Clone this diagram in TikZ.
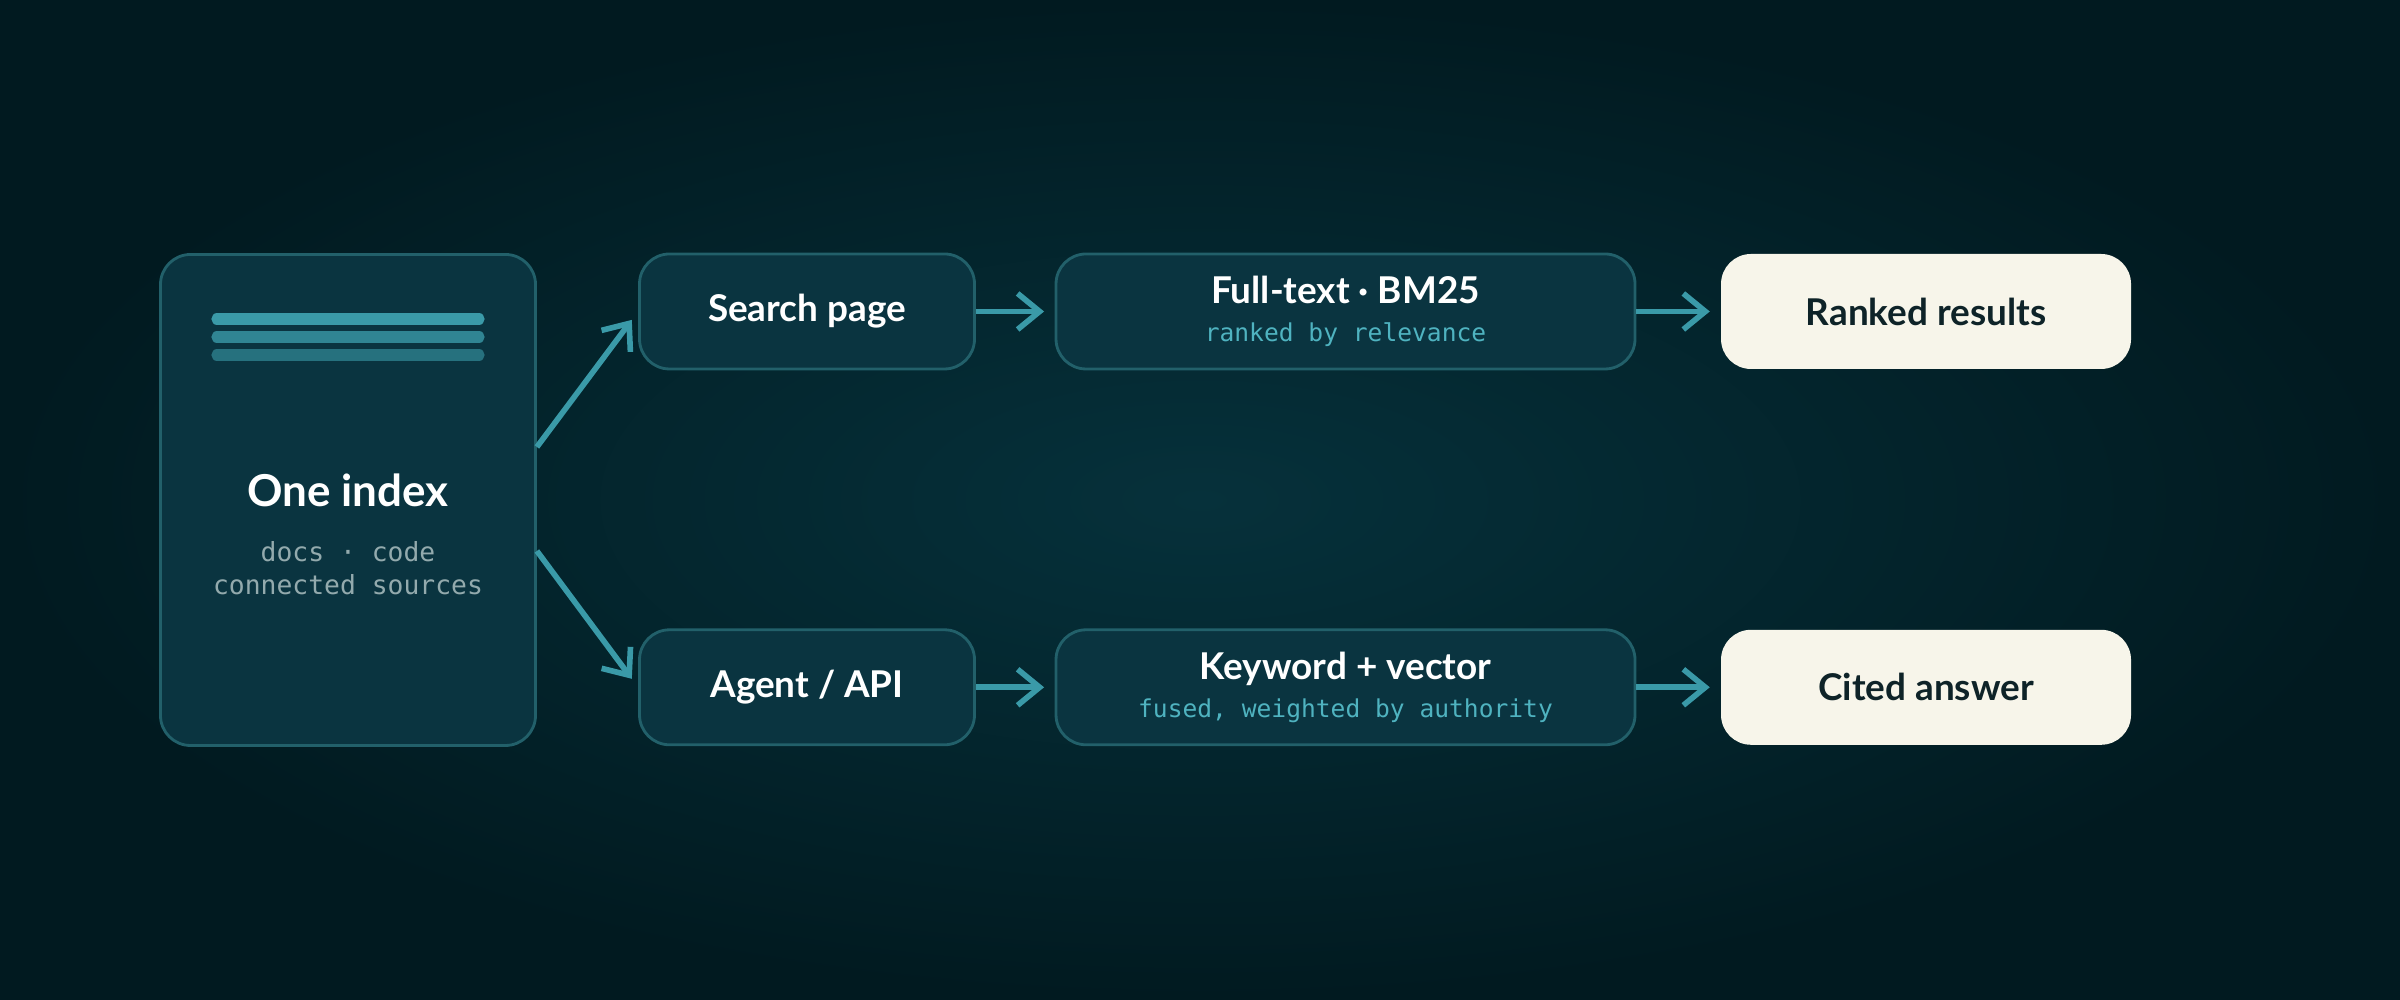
\documentclass[tikz,border=0pt]{standalone}
\usepackage{fontspec}
\setmainfont{Lato}
\setmonofont{DejaVu Sans Mono}
\usetikzlibrary{arrows.meta,positioning}
\definecolor{bgin}{HTML}{06313B}
\definecolor{bgout}{HTML}{011A20}
\definecolor{boxfill}{HTML}{0A3440}
\definecolor{boxline}{HTML}{22606A}
\definecolor{cream}{HTML}{F7F5EA}
\definecolor{teal}{HTML}{3A9AA8}
\definecolor{monoteal}{HTML}{4FB3C0}
\definecolor{monogray}{HTML}{93AAAD}
\definecolor{darktext}{HTML}{0E2328}
\newcommand{\stagenote}[1]{{\normalfont\fontsize{7}{9}\selectfont\ttfamily\color{monoteal}#1}}
\tikzset{
  stage/.style={draw=boxline, line width=0.8pt, fill=boxfill, rounded corners=0.3cm,
    minimum height=1.15cm, text=white, font=\fontsize{10.5}{12}\selectfont\bfseries, align=center},
  result/.style={fill=cream, rounded corners=0.3cm, minimum height=1.15cm, minimum width=4.1cm,
    text=darktext, font=\fontsize{10.5}{12}\selectfont\bfseries},
  flow/.style={draw=teal, line width=1.6pt, -{Straight Barb[length=2.2mm,width=3.6mm]}}
}
\begin{document}
\begin{tikzpicture}
\shade[inner color=bgin, outer color=bgout] (0,0) rectangle (24,10);
\useasboundingbox (0,0) rectangle (24,10);

% source box
\node[stage, minimum width=3.75cm, minimum height=4.91cm] (index) at (3.48,5.0) {};
\foreach \y/\o in {6.81/1, 6.63/0.8, 6.45/0.6}
  \draw[teal, opacity=\o, line width=3.2pt, line cap=round] (2.17,\y) -- (4.79,\y);
\node[text=white, font=\fontsize{12.5}{14}\selectfont\bfseries] (title) at (3.48,5.1) {One index};
\node[font=\fontsize{7.5}{9.5}\selectfont\ttfamily, text=monogray, align=center, below=0.1cm of title] (srcs) {docs · code\\connected sources};

% top row
\node[stage, minimum width=3.35cm] (search) at (8.07,6.885) {Search page};
\node[stage, minimum width=5.79cm] (bm) at (13.455,6.885) {Full-text · BM25\\[-1pt]\stagenote{ranked by relevance}};
\node[result] (ranked) at (19.26,6.885) {Ranked results};

% bottom row
\node[stage, minimum width=3.35cm] (agent) at (8.07,3.127) {Agent / API};
\node[stage, minimum width=5.79cm] (hybrid) at (13.455,3.127) {Keyword + vector\\[-1pt]\stagenote{fused, weighted by authority}};
\node[result] (cited) at (19.26,3.127) {Cited answer};

\draw[flow, shorten >=3pt] (index.east |- 0,5.53) -- (search.west);
\draw[flow, shorten >=3pt] (index.east |- 0,4.49) -- (agent.west);
\draw[flow, shorten >=3pt] (search) -- (bm);
\draw[flow, shorten >=3pt] (agent) -- (hybrid);
\draw[flow, shorten >=3pt] (bm) -- (ranked);
\draw[flow, shorten >=3pt] (hybrid) -- (cited);
\end{tikzpicture}
\end{document}
